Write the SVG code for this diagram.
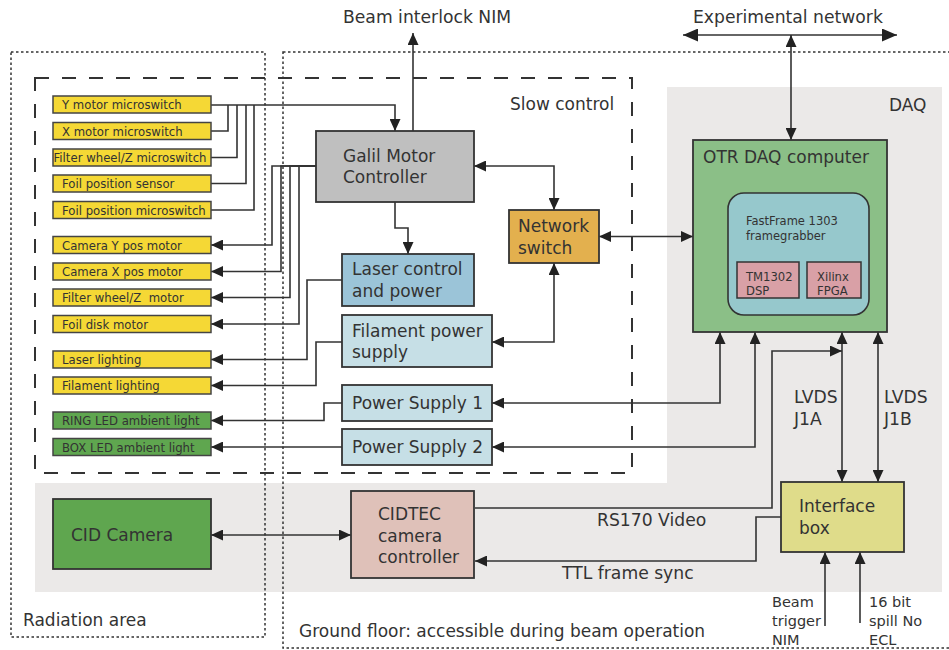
<svg xmlns="http://www.w3.org/2000/svg" width="949" height="650" viewBox="0 0 949 650">
<style>
text{font-family:"DejaVu Sans","Liberation Sans",sans-serif;fill:#333}
.t17{font-size:17px}
.t16{font-size:17.2px}
.t11{font-size:11.7px}
.t11b{font-size:11.5px}
.t12{font-size:11.6px}
.t14{font-size:14.5px}
.box{stroke:#333;stroke-width:1.8}
.sm{stroke:#444;stroke-width:1.5}
.yel{fill:#f5d835}
.grn{fill:#5fa64f}
.c{fill:none;stroke:#333;stroke-width:1.6}
.a{marker-end:url(#ah)}
.b{marker-start:url(#ah);marker-end:url(#ah)}
</style>
<defs>
<marker id="ah" markerUnits="userSpaceOnUse" markerWidth="12" markerHeight="11" refX="12" refY="5.5" orient="auto-start-reverse" viewBox="0 0 12 11"><path d="M0,0 L12,5.5 L0,11 z" fill="#222"/></marker>
<marker id="ahb" markerUnits="userSpaceOnUse" markerWidth="15" markerHeight="13" refX="15" refY="6.5" orient="auto-start-reverse" viewBox="0 0 15 13"><path d="M0,0 L15,6.5 L0,13 z" fill="#222"/></marker>
</defs>
<rect width="949" height="650" fill="#fff"/>
<g id="regions">
<path d="M667,87 H942 V592 H35 V483 H667 Z" fill="#ebe9e8"/>
<rect x="11" y="52" width="254" height="585" fill="none" stroke="#333" stroke-width="1.5" stroke-dasharray="2.5,2.5"/>
<rect x="283" y="52" width="680" height="596" fill="none" stroke="#333" stroke-width="1.5" stroke-dasharray="2.5,2.5"/>
<rect x="35" y="78" width="597" height="395" fill="none" stroke="#333" stroke-width="2" stroke-dasharray="14,13"/>
<text class="t17" x="510" y="110">Slow control</text>
<text class="t17" x="889" y="111">DAQ</text>
<text class="t17" x="23" y="626">Radiation area</text>
<text class="t17" x="299" y="637">Ground floor: accessible during beam operation</text>
</g>
<g id="connectors">
<path class="c a" d="M211,105 H395 V131"/>
<path class="c" d="M211,131 H228 V105"/>
<path class="c" d="M211,157.5 H237 V105"/>
<path class="c" d="M211,183.5 H246 V105"/>
<path class="c" d="M211,210 H254 V105"/>
<path class="c a" d="M316,166 H272 V245 H211"/>
<path class="c a" d="M316,166 H281 V271.5 H211"/>
<path class="c a" d="M316,166 H290 V297.5 H211"/>
<path class="c a" d="M316,166 H299 V324 H211"/>
<path class="c a" d="M342,280 H307 V359.5 H211"/>
<path class="c a" d="M342,342 H316 V385.5 H211"/>
<path class="c a" d="M342,403 H324 V420.5 H211"/>
<path class="c a" d="M342,447 H211"/>
<path class="c a" d="M413,131 V33"/>
<path class="c a" d="M395,202 V228 H408 V254"/>
<path class="c b" d="M474,166 H554 V210"/>
<path class="c b" d="M554,263 V342 H492"/>
<path class="c b" d="M599,236.5 H693"/>
<path class="c b" d="M492,403 H720 V332"/>
<path class="c b" d="M492,447 H755 V332"/>
<path class="c b" d="M842,332 V482"/>
<path class="c b" d="M878,332 V482"/>
<path class="c a" d="M475,508 H772 V351 H842"/>
<path class="c a" d="M781,517 H756 V561 H475"/>
<path class="c a" d="M825,626 V552"/>
<path class="c a" d="M860,623 V552"/>
<path class="c" d="M683,35 H897" stroke-width="3" marker-start="url(#ahb)" marker-end="url(#ahb)"/>
<path class="c b" d="M791,35 V140"/>
<path class="c b" d="M211,535 H351"/>
<text class="t16" x="343" y="23">Beam interlock NIM</text>
<text class="t16" x="693" y="23">Experimental network</text>
<text class="t16" x="794" y="403">LVDS</text>
<text class="t16" x="794" y="425">J1A</text>
<text class="t16" x="884" y="403">LVDS</text>
<text class="t16" x="884" y="425">J1B</text>
<text class="t16" x="597" y="526">RS170 Video</text>
<text class="t16" x="562" y="579">TTL frame sync</text>
<text class="t14" x="772" y="607">Beam</text>
<text class="t14" x="772" y="626">trigger</text>
<text class="t14" x="772" y="645">NIM</text>
<text class="t14" x="869" y="607">16 bit</text>
<text class="t14" x="869" y="626">spill No</text>
<text class="t14" x="869" y="645">ECL</text>
</g>
<g id="n-ymotor"><rect class="sm yel" x="53" y="96" width="158" height="17"/><text class="t11" x="62" y="109">Y motor microswitch</text></g>
<g id="n-xmotor"><rect class="sm yel" x="53" y="122.5" width="158" height="17"/><text class="t11" x="62" y="135.5">X motor microswitch</text></g>
<g id="n-filtersw"><rect class="sm yel" x="53" y="149" width="158" height="17"/><text class="t11" x="53.5" y="162">Filter wheel/Z microswitch</text></g>
<g id="n-foilsensor"><rect class="sm yel" x="53" y="175" width="158" height="17"/><text class="t11" x="62" y="188">Foil position sensor</text></g>
<g id="n-foilsw"><rect class="sm yel" x="53" y="201.5" width="158" height="17"/><text class="t11" x="62" y="214.5">Foil position microswitch</text></g>
<g id="n-camy"><rect class="sm yel" x="53" y="236.5" width="158" height="17"/><text class="t11" x="62" y="249.5">Camera Y pos motor</text></g>
<g id="n-camx"><rect class="sm yel" x="53" y="263" width="158" height="17"/><text class="t11" x="62" y="276">Camera X pos motor</text></g>
<g id="n-filtermotor"><rect class="sm yel" x="53" y="289" width="158" height="17"/><text class="t11" x="62" y="302" xml:space="preserve">Filter wheel/Z  motor</text></g>
<g id="n-foildisk"><rect class="sm yel" x="53" y="315.5" width="158" height="17"/><text class="t11" x="62" y="328.5">Foil disk motor</text></g>
<g id="n-laserlight"><rect class="sm yel" x="53" y="351" width="158" height="17"/><text class="t11" x="62" y="364">Laser lighting</text></g>
<g id="n-filamentlight"><rect class="sm yel" x="53" y="377" width="158" height="17"/><text class="t11" x="62" y="390">Filament lighting</text></g>
<g id="n-ring"><rect class="sm grn" x="53" y="412" width="158" height="17"/><text class="t11" x="62" y="425">RING LED ambient light</text></g>
<g id="n-box"><rect class="sm grn" x="53" y="438.5" width="158" height="17"/><text class="t11" x="62" y="451.5">BOX LED ambient light</text></g>
<g id="n-galil"><rect class="box" x="316" y="131" width="158" height="71" fill="#bfbfbf"/><text class="t17" x="343" y="162">Galil Motor</text><text class="t17" x="343" y="183">Controller</text></g>
<g id="n-laser"><rect class="box" x="342" y="254" width="132" height="52" fill="#9bc4d8"/><text class="t17" x="352" y="275">Laser control</text><text class="t17" x="352" y="297">and power</text></g>
<g id="n-filament"><rect class="box" x="342" y="315" width="150" height="52" fill="#c6dfe6"/><text class="t17" x="352" y="337">Filament power</text><text class="t17" x="352" y="358">supply</text></g>
<g id="n-ps1"><rect class="box" x="342" y="385" width="150" height="36" fill="#c6dfe6"/><text class="t17" x="352" y="409">Power Supply 1</text></g>
<g id="n-ps2"><rect class="box" x="342" y="429" width="150" height="36" fill="#c6dfe6"/><text class="t17" x="352" y="453">Power Supply 2</text></g>
<g id="n-switch"><rect class="box" x="509" y="210" width="90" height="53" fill="#e3b04e"/><text class="t17" x="518" y="232">Network</text><text class="t17" x="518" y="254">switch</text></g>
<g id="n-otr"><rect class="box" x="693" y="140" width="194" height="192" fill="#8bbf87"/><text class="t17" x="703" y="163">OTR DAQ computer</text>
<rect x="728" y="193" width="141" height="122" rx="16" fill="#96c8cc" stroke="#333" stroke-width="1.6"/>
<text class="t11b" x="746" y="225">FastFrame 1303</text><text class="t11b" x="746" y="240">framegrabber</text>
<rect x="737" y="262" width="62" height="36" fill="#d9a0a6" stroke="#333" stroke-width="1.5"/><text class="t12" x="746" y="281">TM1302</text><text class="t12" x="746" y="295">DSP</text>
<rect x="807" y="262" width="54" height="36" fill="#d9a0a6" stroke="#333" stroke-width="1.5"/><text class="t12" x="817" y="281">Xilinx</text><text class="t12" x="817" y="295">FPGA</text></g>
<g id="n-interface"><rect class="box" x="781" y="482" width="123" height="70" fill="#dfdc8a"/><text class="t17" x="799" y="512">Interface</text><text class="t17" x="799" y="534">box</text></g>
<g id="n-cid"><rect class="box" x="53" y="499" width="158" height="70" fill="#5fa64f"/><text class="t17" x="71" y="541">CID Camera</text></g>
<g id="n-cidtec"><rect class="box" x="351" y="491" width="123" height="87" fill="#dfc1b9"/><text class="t17" x="378" y="520">CIDTEC</text><text class="t17" x="378" y="542">camera</text><text class="t17" x="378" y="563">controller</text></g>
</svg>
